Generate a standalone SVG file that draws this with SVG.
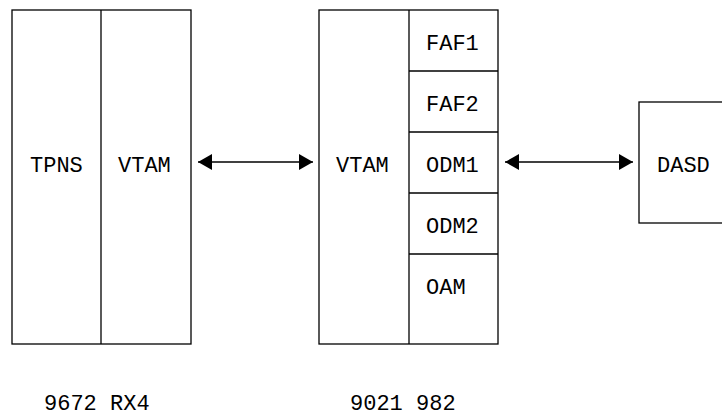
<svg xmlns="http://www.w3.org/2000/svg" width="722" height="417" viewBox="0 0 722 417">
<style>
.box{fill:#fff;stroke:#000;stroke-width:1.3}
.ln{stroke:#000;stroke-width:1.3;fill:none}
.t{font-family:"Liberation Mono","Courier New",monospace;font-size:22px;fill:#000}
</style>
<defs>
<marker id="ah" viewBox="0 0 14 16" refX="14" refY="8" markerWidth="14" markerHeight="16" markerUnits="userSpaceOnUse" orient="auto-start-reverse">
<path d="M0,0 L14,8 L0,16 Z" fill="#000"/>
</marker>
</defs>
<rect width="722" height="417" fill="#fff"/>
<g id="rx4">
<rect class="box" x="12" y="10" width="179" height="334"/>
<line class="ln" x1="101" y1="10" x2="101" y2="344"/>
<text class="t" x="30" y="172">TPNS</text>
<text class="t" x="118" y="172">VTAM</text>
<text class="t" x="44" y="410">9672 RX4</text>
</g>
<g id="n982">
<rect class="box" x="319" y="10" width="179" height="334"/>
<line class="ln" x1="409" y1="10" x2="409" y2="344"/>
<line class="ln" x1="409" y1="71" x2="498" y2="71"/>
<line class="ln" x1="409" y1="132" x2="498" y2="132"/>
<line class="ln" x1="409" y1="193" x2="498" y2="193"/>
<line class="ln" x1="409" y1="254" x2="498" y2="254"/>
<text class="t" x="336" y="172">VTAM</text>
<text class="t" x="426" y="50">FAF1</text>
<text class="t" x="426" y="111">FAF2</text>
<text class="t" x="426" y="172">ODM1</text>
<text class="t" x="426" y="233">ODM2</text>
<text class="t" x="426" y="294">OAM</text>
<text class="t" x="350" y="410">9021 982</text>
</g>
<g id="dasd">
<rect class="box" x="639" y="102" width="90" height="121"/>
<text class="t" x="657" y="172">DASD</text>
</g>
<g id="connectors">
<line class="ln" x1="198" y1="162" x2="313" y2="162" marker-start="url(#ah)" marker-end="url(#ah)"/>
<line class="ln" x1="505" y1="162" x2="633" y2="162" marker-start="url(#ah)" marker-end="url(#ah)"/>
</g>
</svg>
